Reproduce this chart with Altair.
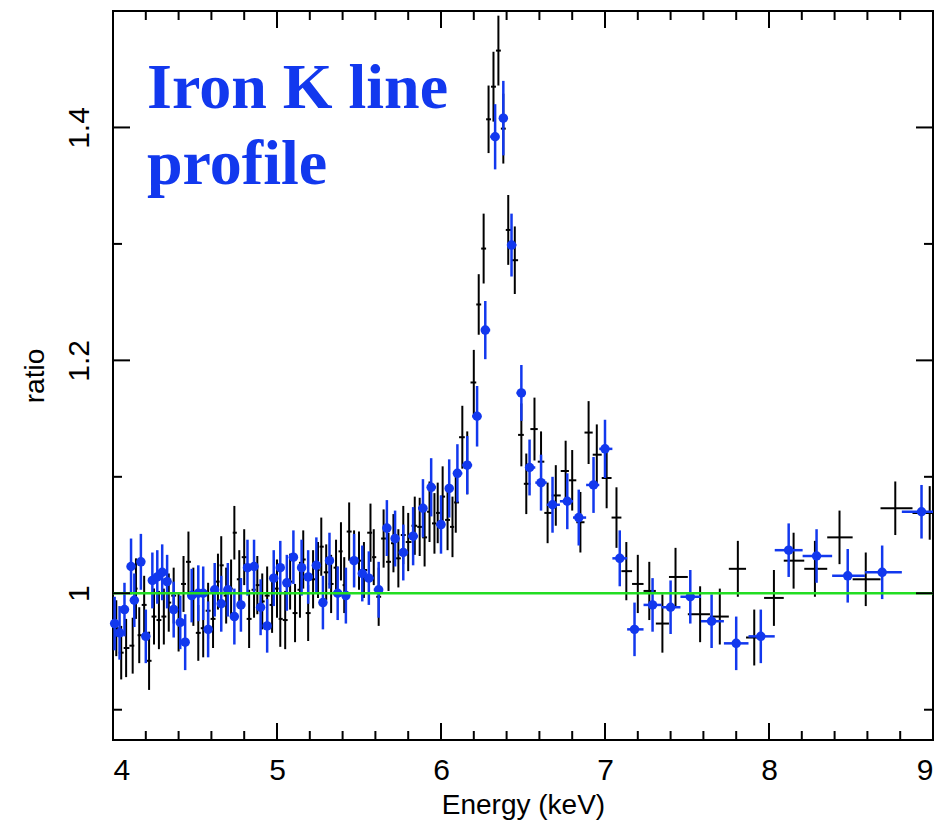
import altair as alt
import pandas as pd
import numpy as np

# ---------------- data ----------------
black_e = [4.02, 4.05, 4.08, 4.12, 4.14, 4.16, 4.19, 4.22, 4.25, 4.28,
           4.31, 4.34, 4.37, 4.40, 4.43, 4.46, 4.49, 4.52, 4.55, 4.58,
           4.61, 4.64, 4.66, 4.69, 4.72, 4.74, 4.77, 4.80, 4.83, 4.86,
           4.88, 4.91, 4.94, 4.97, 5.00, 5.02, 5.05, 5.08, 5.11, 5.14,
           5.16, 5.19, 5.22, 5.25, 5.27, 5.30, 5.33, 5.36, 5.39, 5.41,
           5.44, 5.47, 5.50, 5.53, 5.57, 5.59, 5.62, 5.65, 5.68, 5.71,
           5.74, 5.77, 5.80, 5.84, 5.87, 5.90, 5.93, 5.96, 5.98, 6.01,
           6.04, 6.07, 6.09, 6.13, 6.16, 6.20, 6.23, 6.26, 6.29, 6.32,
           6.35, 6.38, 6.41, 6.45, 6.49, 6.52, 6.57, 6.61, 6.65, 6.70,
           6.76, 6.80, 6.85, 6.90, 6.95, 7.01, 7.07, 7.13, 7.20, 7.27,
           7.35, 7.43, 7.58, 7.70, 7.81, 7.91, 8.03, 8.15, 8.28, 8.43,
           8.59, 8.77, 8.98]
black_r = [0.970, 0.949, 0.953, 0.955, 1.004, 0.964, 0.990, 0.942, 0.980, 0.977,
           0.980, 0.992, 0.998, 0.975, 1.008, 1.027, 0.997, 0.966, 0.970, 0.985,
           0.978, 1.010, 1.024, 0.998, 1.004, 1.052, 1.012, 1.031, 0.978, 1.003,
           1.007, 0.993, 0.998, 0.990, 1.004, 0.978, 0.977, 1.010, 0.983, 1.003,
           1.029, 0.983, 1.012, 1.020, 1.040, 1.018, 1.008, 1.022, 1.036, 1.007,
           1.053, 1.030, 1.028, 1.020, 1.052, 1.031, 0.997, 1.047, 1.027, 1.043,
           1.030, 1.050, 1.044, 1.058, 1.057, 1.048, 1.070, 1.060, 1.069, 1.083,
           1.063, 1.057, 1.078, 1.134, 1.112, 1.181, 1.248, 1.296, 1.407, 1.435,
           1.466, 1.399, 1.312, 1.286, 1.136, 1.094, 1.141, 1.113, 1.069, 1.084,
           1.105, 1.097, 1.061, 1.138, 1.119, 1.099, 1.065, 1.019, 1.008, 1.002,
           0.974, 1.014, 0.982, 0.980, 1.021, 0.962, 0.996, 1.028, 1.021, 1.048,
           1.012, 1.073, 1.069]
black_err = [0.024, 0.023, 0.025, 0.024, 0.026, 0.024, 0.025, 0.025, 0.024, 0.025,
             0.024, 0.025, 0.024, 0.025, 0.024, 0.026, 0.025, 0.024, 0.025, 0.024,
             0.025, 0.024, 0.025, 0.024, 0.025, 0.023, 0.025, 0.024, 0.025, 0.024,
             0.025, 0.024, 0.025, 0.024, 0.025, 0.024, 0.025, 0.024, 0.025, 0.024,
             0.025, 0.024, 0.025, 0.024, 0.025, 0.024, 0.025, 0.024, 0.025, 0.024,
             0.025, 0.024, 0.025, 0.024, 0.025, 0.024, 0.025, 0.025, 0.025, 0.025,
             0.025, 0.025, 0.025, 0.025, 0.025, 0.025, 0.026, 0.026, 0.026, 0.026,
             0.026, 0.026, 0.026, 0.027, 0.027, 0.028, 0.026, 0.030, 0.029, 0.030,
             0.030, 0.030, 0.030, 0.029, 0.027, 0.026, 0.027, 0.026, 0.026, 0.026,
             0.026, 0.026, 0.026, 0.027, 0.026, 0.026, 0.026, 0.025, 0.025, 0.025,
             0.025, 0.025, 0.024, 0.024, 0.024, 0.024, 0.024, 0.024, 0.024, 0.023,
             0.023, 0.023, 0.023]

blue_e = [4.01, 4.04, 4.07, 4.11, 4.13, 4.17, 4.20, 4.24, 4.27, 4.30,
          4.33, 4.37, 4.41, 4.44, 4.48, 4.52, 4.55, 4.58, 4.62, 4.66,
          4.70, 4.74, 4.78, 4.82, 4.86, 4.90, 4.94, 4.98, 5.02, 5.06,
          5.10, 5.15, 5.19, 5.24, 5.28, 5.32, 5.37, 5.42, 5.47, 5.52,
          5.56, 5.62, 5.67, 5.72, 5.77, 5.83, 5.89, 5.94, 6.00, 6.05,
          6.10, 6.16, 6.22, 6.27, 6.33, 6.38, 6.43, 6.49, 6.54, 6.61,
          6.68, 6.77, 6.84, 6.93, 7.00, 7.09, 7.18, 7.29, 7.40, 7.52,
          7.65, 7.80, 7.95, 8.12, 8.29, 8.48, 8.69, 8.93]
blue_r = [0.974, 0.966, 0.986, 1.023, 0.994, 1.027, 0.963, 1.011, 1.014, 1.018,
          1.010, 0.986, 0.975, 0.958, 0.998, 1.000, 1.000, 0.969, 1.003, 0.991,
          1.003, 0.980, 0.990, 1.022, 1.023, 0.988, 0.972, 1.013, 1.022, 1.009,
          1.031, 1.022, 1.014, 1.024, 0.992, 1.028, 1.000, 0.998, 1.028, 1.017,
          1.013, 1.003, 1.056, 1.047, 1.035, 1.049, 1.073, 1.091, 1.059, 1.090,
          1.103, 1.110, 1.152, 1.226, 1.392, 1.408, 1.299, 1.172, 1.108, 1.095,
          1.076, 1.079, 1.065, 1.093, 1.124, 1.030, 0.969, 0.990, 0.988, 0.997,
          0.976, 0.957, 0.963, 1.037, 1.032, 1.015, 1.018, 1.070]
blue_err = [0.023, 0.023, 0.023, 0.024, 0.023, 0.024, 0.023, 0.024, 0.023, 0.024,
            0.023, 0.024, 0.023, 0.024, 0.023, 0.024, 0.023, 0.024, 0.023, 0.024,
            0.023, 0.024, 0.023, 0.024, 0.023, 0.024, 0.023, 0.024, 0.023, 0.024,
            0.023, 0.024, 0.023, 0.024, 0.023, 0.024, 0.023, 0.024, 0.023, 0.024,
            0.023, 0.024, 0.024, 0.024, 0.024, 0.025, 0.025, 0.025, 0.025, 0.025,
            0.025, 0.025, 0.026, 0.025, 0.028, 0.032, 0.027, 0.024, 0.024, 0.024,
            0.024, 0.024, 0.024, 0.024, 0.025, 0.024, 0.023, 0.023, 0.023, 0.023,
            0.023, 0.023, 0.023, 0.023, 0.023, 0.023, 0.023, 0.023]

x_major = [4, 5, 6, 7, 8, 9]
x_minor = [4.2, 4.4, 4.6, 4.8, 5.2, 5.4, 5.6, 5.8, 6.2, 6.4, 6.6, 6.8,
           7.2, 7.4, 7.6, 7.8, 8.2, 8.4, 8.6, 8.8]
y_major = [1.0, 1.2, 1.4]
y_minor = [0.9, 1.1, 1.3]

title_lines = ["Iron K line", "profile"]

# ---------------- build tables ----------------
def table(e, r, err):
    e = np.array(e, dtype=float)
    mids = (e[1:] + e[:-1]) / 2
    lo = np.concatenate([[e[0] - (mids[0] - e[0])], mids])
    hi = np.concatenate([mids, [e[-1] + (e[-1] - mids[-1])]])
    r = np.array(r, dtype=float)
    err = np.array(err, dtype=float)
    return pd.DataFrame({"E": e, "r": r, "xlo": lo, "xhi": hi,
                         "ylo": r - err, "yhi": r + err})

black = table(black_e, black_r, black_err)
blue = table(blue_e, blue_r, blue_err)

W, H = 820, 729
FONT = "Liberation Sans"
BLUE = "#1238EE"
GREEN = "#22DD22"

xscale = alt.Scale(domain=[4, 9], nice=False, zero=False)
yscale = alt.Scale(domain=[0.874, 1.5], nice=False, zero=False)

xaxis = alt.Axis(values=x_major, format="d", ticks=False, tickSize=0, domain=False,
                 grid=False, labelFont=FONT, labelFontSize=30, labelColor="black",
                 labelPadding=39, labelBaseline="alphabetic",
                 title="Energy (keV)", titleFont=FONT, titleFontSize=28,
                 titleFontWeight="normal", titleColor="black",
                 titleBaseline="alphabetic", titleY=73)
yaxis = alt.Axis(values=y_major, format="~g", ticks=False, tickSize=0, domain=False,
                 grid=False, labelFont=FONT, labelFontSize=30, labelColor="black",
                 labelAngle=270, labelAlign="center", labelBaseline="alphabetic",
                 labelPadding=25,
                 title="ratio", titleFont=FONT, titleFontSize=28,
                 titleFontWeight="normal", titleColor="black",
                 titleBaseline="alphabetic", titleX=-70, titleY=H / 2)


def X(field):
    return alt.X(field, type="quantitative", scale=xscale, axis=xaxis)


def Y(field):
    return alt.Y(field, type="quantitative", scale=yscale, axis=yaxis)


def series_layers(df, color, width):
    base = alt.Chart(df)
    v = base.mark_rule(color=color, strokeWidth=width, clip=True).encode(
        x=X("E"), y=Y("ylo"), y2="yhi")
    h = base.mark_rule(color=color, strokeWidth=width, clip=True).encode(
        x=X("xlo"), x2="xhi", y=Y("r"))
    return [v, h]


layers = []
layers += series_layers(black, "black", 2)
layers += series_layers(blue, BLUE, 2.5)
layers.append(alt.Chart(blue).mark_circle(color=BLUE, size=90, opacity=1).encode(
    x=X("E"), y=Y("r")))

# green unity line
layers.append(alt.Chart(pd.DataFrame({"y": [1.0]})).mark_rule(
    color=GREEN, strokeWidth=2.5).encode(y=Y("y")))

# inward ticks on all four sides
xmaj = pd.DataFrame({"t": x_major})
xmin = pd.DataFrame({"t": x_minor})
ymaj = pd.DataFrame({"t": y_major})
ymin = pd.DataFrame({"t": y_minor})
for df, L in [(xmaj, 17), (xmin, 9)]:
    layers.append(alt.Chart(df).mark_rule(color="black", strokeWidth=2).encode(
        x=X("t"), y=alt.value(H), y2=alt.value(H - L)))
    layers.append(alt.Chart(df).mark_rule(color="black", strokeWidth=2).encode(
        x=X("t"), y=alt.value(0), y2=alt.value(L)))
for df, L in [(ymaj, 17), (ymin, 9)]:
    layers.append(alt.Chart(df).mark_rule(color="black", strokeWidth=2).encode(
        y=Y("t"), x=alt.value(0), x2=alt.value(L)))
    layers.append(alt.Chart(df).mark_rule(color="black", strokeWidth=2).encode(
        y=Y("t"), x=alt.value(W), x2=alt.value(W - L)))

# annotation text
title_df = pd.DataFrame({"txt": title_lines, "yy": [97, 173]})
layers.append(alt.Chart(title_df).mark_text(
    font="Liberation Serif", fontSize=64, fontWeight="bold", color=BLUE,
    align="left", baseline="alphabetic").encode(
    text="txt:N", x=alt.value(34), y=alt.Y("yy:Q", scale=None)))

chart = alt.layer(*layers).properties(
    width=W, height=H,
    autosize=alt.AutoSizeParams(type="none"),
    padding={"left": 105, "top": 3, "right": 7, "bottom": 86},
    background="white",
).configure_view(stroke="black", strokeWidth=2)

chart.save("out.html", embed_options={"renderer": "svg", "actions": False})
